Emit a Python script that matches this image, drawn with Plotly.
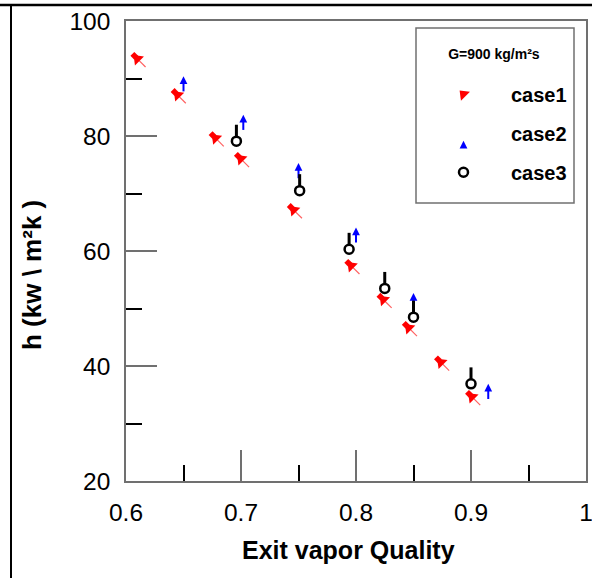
import plotly.graph_objects as go

# ---- data ----
case1_x = [0.610, 0.645, 0.678, 0.700, 0.746, 0.796, 0.824, 0.846, 0.874, 0.901]
case1_y = [93.4, 87.1, 79.6, 76.0, 67.1, 57.4, 51.5, 46.6, 40.6, 34.6]

case2_x = [0.650, 0.702, 0.750, 0.800, 0.850, 0.915]
case2_y = [89.1, 82.4, 74.0, 62.8, 51.4, 35.6]

case3_x = [0.696, 0.751, 0.794, 0.825, 0.850, 0.900]
case3_y = [79.1, 70.5, 60.3, 53.5, 48.5, 36.9]

x_ticks = [0.6, 0.7, 0.8, 0.9, 1.0]
x_ticktext = ["0.6", "0.7", "0.8", "0.9", "1"]
y_ticks = [20, 40, 60, 80, 100]

W, H = 592, 578
ML, MR, MT, MB = 126, 6, 21, 97
PW, PH = W - ML - MR, H - MT - MB

def px(xp):
    return (xp - ML) / PW

def py(yp):
    return (H - MB - yp) / PH

ARIAL = "Liberation Sans, Arial, sans-serif"

fig = go.Figure()

# case1: red push pins (needle + knob + head)
fig.add_trace(go.Scatter(
    x=case1_x, y=case1_y, mode="markers", legendgroup="c1", showlegend=False,
    hoverinfo="skip",
    marker=dict(symbol="line-ns", angle=-45, standoff=6.5, size=7,
                line=dict(color="#ff6060", width=1.2))))
fig.add_trace(go.Scatter(
    x=case1_x, y=case1_y, mode="markers", legendgroup="c1", showlegend=False,
    hoverinfo="skip",
    marker=dict(symbol="square", angle=135, standoff=4.5, size=5.5,
                color="#ff0000", line=dict(width=0))))
fig.add_trace(go.Scatter(
    x=case1_x, y=case1_y, mode="markers", name="case1", legendgroup="c1",
    marker=dict(symbol="triangle-up", angle=-45, size=11, color="#ff0000",
                line=dict(width=0))))

# case2: blue arrows (stem + head)
fig.add_trace(go.Scatter(
    x=case2_x, y=case2_y, mode="markers", legendgroup="c2", showlegend=False,
    hoverinfo="skip",
    marker=dict(symbol="line-ns", angle=0, standoff=2.75, size=7.1,
                line=dict(color="#0000ff", width=2))))
fig.add_trace(go.Scatter(
    x=case2_x, y=case2_y, mode="markers", name="case2", legendgroup="c2",
    marker=dict(symbol="arrow-down", angle=180, standoff=7.5, size=7.8,
                color="#0000ff", line=dict(width=0))))

# case3: black open circle with stem
fig.add_trace(go.Scatter(
    x=case3_x, y=case3_y, mode="markers", legendgroup="c3", showlegend=False,
    hoverinfo="skip",
    marker=dict(symbol="line-ns", angle=180, standoff=10.5, size=8.5,
                line=dict(color="#000000", width=3))))
fig.add_trace(go.Scatter(
    x=case3_x, y=case3_y, mode="markers", name="case3", legendgroup="c3",
    marker=dict(symbol="circle-open", size=9, color="#000000",
                line=dict(color="#000000", width=2.5))))

axis_common = dict(
    showline=True, linecolor="#707070", linewidth=1.5, mirror=True,
    ticks="inside", ticklen=31, tickwidth=1.5, tickcolor="#707070",
    showgrid=False, zeroline=False, ticklabeloverflow="allow",
    tickfont=dict(family=ARIAL, size=24.5, color="#000000"),
)

fig.update_xaxes(range=[0.6, 1.0], tickvals=x_ticks, ticktext=x_ticktext,
                 minor=dict(ticks="inside", ticklen=16, tickwidth=1.5,
                            tickcolor="#000000", dtick=0.05, tick0=0.6,
                            showgrid=False),
                 ticklabelstandoff=9, **axis_common)
fig.update_yaxes(range=[20, 100], tickvals=y_ticks,
                 minor=dict(ticks="inside", ticklen=16, tickwidth=1.5,
                            tickcolor="#000000", dtick=10, tick0=20,
                            showgrid=False),
                 ticklabelstandoff=9, **axis_common)

fig.update_layout(
    width=W, height=H,
    margin=dict(l=ML, r=MR, t=MT, b=MB, autoexpand=False),
    paper_bgcolor="#ffffff", plot_bgcolor="#ffffff",
    showlegend=True,
    legend=dict(
        x=px(416), y=py(28), xanchor="left", yanchor="top",
        bgcolor="rgba(0,0,0,0)", borderwidth=0,
        title=dict(text="&nbsp;<br><span style='font-size:14px'>G=900 kg/m²s</span><br>&nbsp;",
                   side="top center",
                   font=dict(family=ARIAL, size=12, weight="bold", color="#000000")),
        font=dict(family=ARIAL, size=20, weight="bold", color="#000000"),
        itemwidth=85, tracegroupgap=10, entrywidth=60,
    ),
    shapes=[
        dict(type="line", xref="paper", yref="paper",
             x0=px(0), x1=px(W), y0=py(5), y1=py(5),
             line=dict(color="#000000", width=2.5)),
        dict(type="line", xref="paper", yref="paper",
             x0=px(11), x1=px(11), y0=py(5), y1=py(H),
             line=dict(color="#000000", width=2)),
        dict(type="rect", xref="paper", yref="paper", layer="above",
             x0=px(416), x1=px(574), y0=py(28), y1=py(203),
             fillcolor="#ffffff", line=dict(color="#707070", width=1.5)),
    ],
    annotations=[
        dict(text="Exit vapor Quality", xref="paper", yref="paper",
             x=px(348), y=py(550), xanchor="center", yanchor="middle",
             showarrow=False,
             font=dict(family=ARIAL, size=25, weight="bold", color="#000000")),
        dict(text="h (kw \\ m²k )", xref="paper", yref="paper",
             x=px(32), y=py(275), xanchor="center", yanchor="middle",
             showarrow=False, textangle=-90,
             font=dict(family=ARIAL, size=26, weight="bold", color="#000000")),
    ],
)

fig.write_html("out.html", config={"displayModeBar": False},
               post_script="document.body.style.margin='0px';document.body.style.overflow='hidden';")
